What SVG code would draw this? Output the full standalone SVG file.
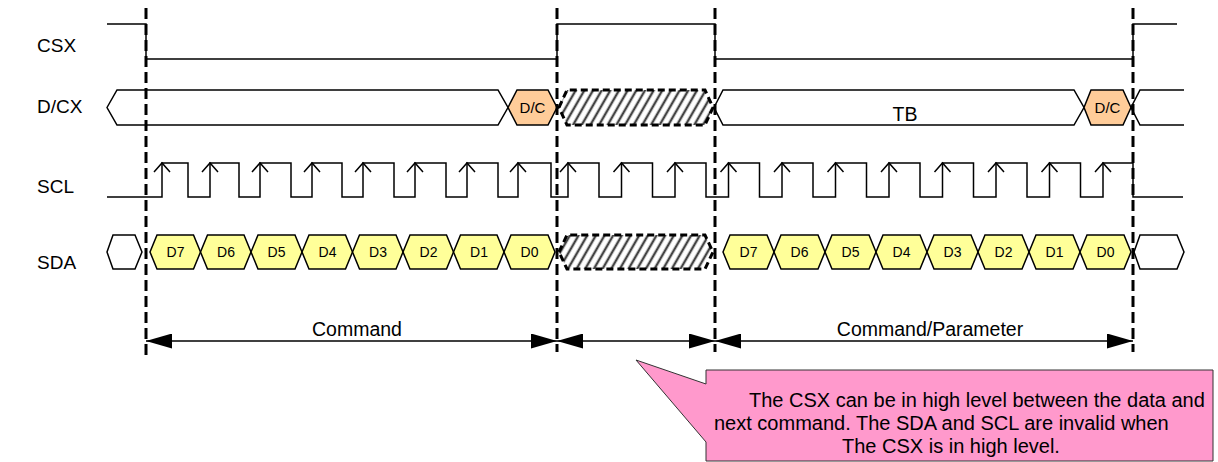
<svg xmlns="http://www.w3.org/2000/svg" xmlns:xlink="http://www.w3.org/1999/xlink" width="1218" height="462" viewBox="0 0 1218 462">
<style>
.sig{fill:none;stroke:#000;stroke-width:1.5}
.bus{fill:#fff;stroke:#000;stroke-width:1.5}
.dc{fill:#FFCC99;stroke:#000;stroke-width:1.5}
.bit{fill:#FFFF99;stroke:#000;stroke-width:1.5}
.inv{fill:url(#hatch);stroke:#000;stroke-width:3;stroke-dasharray:7 4}
.mark{fill:none;stroke:#000;stroke-width:3;stroke-dasharray:11 5}
.dim{fill:none;stroke:#000;stroke-width:1.5;marker-start:url(#ah);marker-end:url(#ah)}
.lbl{font-family:"Liberation Sans",Arial,sans-serif;font-size:19px;fill:#000}
.hx{font-family:"Liberation Sans",Arial,sans-serif;font-size:14px;fill:#000;text-anchor:middle}
.dct{font-family:"Liberation Sans",Arial,sans-serif;font-size:15px;fill:#000;text-anchor:middle}
.big{font-family:"Liberation Sans",Arial,sans-serif;font-size:19.5px;fill:#000;text-anchor:middle}
.note{font-family:"Liberation Sans",Arial,sans-serif;font-size:20px;fill:#000}
</style>
<defs>
<pattern id="hatch" patternUnits="userSpaceOnUse" width="7.5" height="8" patternTransform="rotate(30)">
<rect width="7.5" height="8" fill="#fff"/>
<line x1="3.75" y1="0" x2="3.75" y2="8" stroke="#444" stroke-width="2.4"/>
</pattern>
<marker id="ah" viewBox="0 0 26 15" refX="26" refY="7.5" markerWidth="26" markerHeight="15" markerUnits="userSpaceOnUse" orient="auto-start-reverse">
<path d="M0,0 L26,7.5 L0,15 Z" fill="#000"/>
</marker>
<path id="tick" d="M-8,172 L0,163 L8,172" fill="none" stroke="#000" stroke-width="1.5"/>
</defs>
<rect width="1218" height="462" fill="#fff"/>

<g id="labels">
<text class="lbl" x="37" y="52">CSX</text>
<text class="lbl" x="37" y="113">D/CX</text>
<text class="lbl" x="37" y="193">SCL</text>
<text class="lbl" x="37" y="269">SDA</text>
</g>

<g id="csx">
<path class="sig" d="M107,24 H146 V59 H557 V24 H715 V59 H1133 V24 H1177"/>
</g>

<g id="dcx">
<g id="dcx-prev"><polygon class="bus" points="107,107.5 117,90 498,90 508,107.5 498,125 117,125"/></g>
<g id="dcx-dc1"><polygon class="dc" points="508,107.5 517,90 548,90 557,107.5 548,125 517,125"/><text class="dct" x="532.5" y="113">D/C</text></g>
<g id="dcx-invalid"><polygon class="inv" points="559,107.5 567,90 705,90 713,107.5 705,125 567,125"/></g>
<g id="dcx-tb"><polygon class="bus" points="714,107.5 723,90 1074,90 1084,107.5 1074,125 723,125"/><text class="big" x="905" y="121">TB</text></g>
<g id="dcx-dc2"><polygon class="dc" points="1084,107.5 1091,90 1123,90 1131,107.5 1123,125 1091,125"/><text class="dct" x="1107.5" y="113">D/C</text></g>
<g id="dcx-next"><path class="sig" d="M1184,90 H1140 L1131,107.5 L1140,125 H1184"/></g>
</g>

<g id="scl">
<path class="sig" d="M107,197 H162 V163 H188 V197 H210 V163 H239 V197 H260 V163 H291 V197 H312 V163 H342 V197 H363 V163 H394 V197 H415 V163 H446 V197 H467 V163 H498 V197 H518 V163 H551 V197 H568 V163 H599 V197 H621.5 V163 H652.5 V197 H675 V163 H706 V197 H728.5 V163 H759.5 V197 H782 V163 H813 V197 H835.5 V163 H866.5 V197 H889 V163 H920 V197 H942.5 V163 H973.5 V197 H996 V163 H1027 V197 H1049.5 V163 H1080.5 V197 H1103 V163 H1133 V197 H1183"/>
<use xlink:href="#tick" x="162"/><use xlink:href="#tick" x="210"/><use xlink:href="#tick" x="260"/><use xlink:href="#tick" x="312"/>
<use xlink:href="#tick" x="363"/><use xlink:href="#tick" x="415"/><use xlink:href="#tick" x="467"/><use xlink:href="#tick" x="518"/>
<use xlink:href="#tick" x="568"/><use xlink:href="#tick" x="621.5"/><use xlink:href="#tick" x="675"/>
<use xlink:href="#tick" x="728.5"/><use xlink:href="#tick" x="782"/><use xlink:href="#tick" x="835.5"/><use xlink:href="#tick" x="889"/>
<use xlink:href="#tick" x="942.5"/><use xlink:href="#tick" x="996"/><use xlink:href="#tick" x="1049.5"/><use xlink:href="#tick" x="1103"/>
</g>

<g id="sda">
<g id="sda-prev"><polygon class="bus" points="107,252 113,235 135,235 142,252 135,269 113,269"/></g>
<g id="sda1-d7"><polygon class="bit" points="150,252 157,235 193.5,235 200.5,252 193.5,269 157,269"/><text class="hx" x="175.5" y="257">D7</text></g>
<g id="sda1-d6"><polygon class="bit" points="200.5,252 207.5,235 244,235 251,252 244,269 207.5,269"/><text class="hx" x="226" y="257">D6</text></g>
<g id="sda1-d5"><polygon class="bit" points="251,252 258,235 295,235 302,252 295,269 258,269"/><text class="hx" x="276.5" y="257">D5</text></g>
<g id="sda1-d4"><polygon class="bit" points="302,252 309,235 345.5,235 352.5,252 345.5,269 309,269"/><text class="hx" x="327.5" y="257">D4</text></g>
<g id="sda1-d3"><polygon class="bit" points="352.5,252 359.5,235 396,235 403,252 396,269 359.5,269"/><text class="hx" x="378" y="257">D3</text></g>
<g id="sda1-d2"><polygon class="bit" points="403,252 410,235 446.5,235 453.5,252 446.5,269 410,269"/><text class="hx" x="428.5" y="257">D2</text></g>
<g id="sda1-d1"><polygon class="bit" points="453.5,252 460.5,235 497,235 504,252 497,269 460.5,269"/><text class="hx" x="479" y="257">D1</text></g>
<g id="sda1-d0"><polygon class="bit" points="504,252 511,235 548,235 555,252 548,269 511,269"/><text class="hx" x="529.5" y="257">D0</text></g>
<g id="sda-invalid"><polygon class="inv" points="559,252 567,235 705,235 713,252 705,269 567,269"/></g>
<g id="sda2-d7"><polygon class="bit" points="723,252 730,235 767,235 774,252 767,269 730,269"/><text class="hx" x="748.5" y="257">D7</text></g>
<g id="sda2-d6"><polygon class="bit" points="774,252 781,235 818,235 825,252 818,269 781,269"/><text class="hx" x="799.5" y="257">D6</text></g>
<g id="sda2-d5"><polygon class="bit" points="825,252 832,235 869,235 876,252 869,269 832,269"/><text class="hx" x="850.5" y="257">D5</text></g>
<g id="sda2-d4"><polygon class="bit" points="876,252 883,235 920,235 927,252 920,269 883,269"/><text class="hx" x="901.5" y="257">D4</text></g>
<g id="sda2-d3"><polygon class="bit" points="927,252 934,235 971,235 978,252 971,269 934,269"/><text class="hx" x="952.5" y="257">D3</text></g>
<g id="sda2-d2"><polygon class="bit" points="978,252 985,235 1022,235 1029,252 1022,269 985,269"/><text class="hx" x="1003.5" y="257">D2</text></g>
<g id="sda2-d1"><polygon class="bit" points="1029,252 1036,235 1073,235 1080,252 1073,269 1036,269"/><text class="hx" x="1054.5" y="257">D1</text></g>
<g id="sda2-d0"><polygon class="bit" points="1080,252 1087,235 1124,235 1131,252 1124,269 1087,269"/><text class="hx" x="1105.5" y="257">D0</text></g>
<g id="sda-next"><polygon class="bus" points="1134,252 1140,235 1177,235 1184,252 1177,269 1140,269"/></g>
</g>

<g id="connectors">
<line class="mark" x1="146" y1="8" x2="146" y2="358"/>
<line class="mark" x1="557" y1="8" x2="557" y2="352"/>
<line class="mark" x1="715" y1="8" x2="715" y2="352"/>
<line class="mark" x1="1133" y1="8" x2="1133" y2="352"/>
<line class="dim" x1="146" y1="341" x2="557" y2="341"/>
<line class="dim" x1="557" y1="341" x2="715" y2="341"/>
<line class="dim" x1="715" y1="341" x2="1133" y2="341"/>
</g>

<g id="dim-labels">
<text class="big" x="357" y="336">Command</text>
<text class="big" x="930" y="336">Command/Parameter</text>
</g>

<g id="callout">
<path d="M706,370 H1213 V461 H706 V442 L636,360 L706,384 Z" fill="#FF99CC" stroke="#333" stroke-width="1"/>
<text class="note" x="749" y="407">The CSX can be in high level between the data and</text>
<text class="note" x="714" y="430">next command. The SDA and SCL are invalid when</text>
<text class="note" x="842" y="453">The CSX is in high level.</text>
</g>
</svg>
